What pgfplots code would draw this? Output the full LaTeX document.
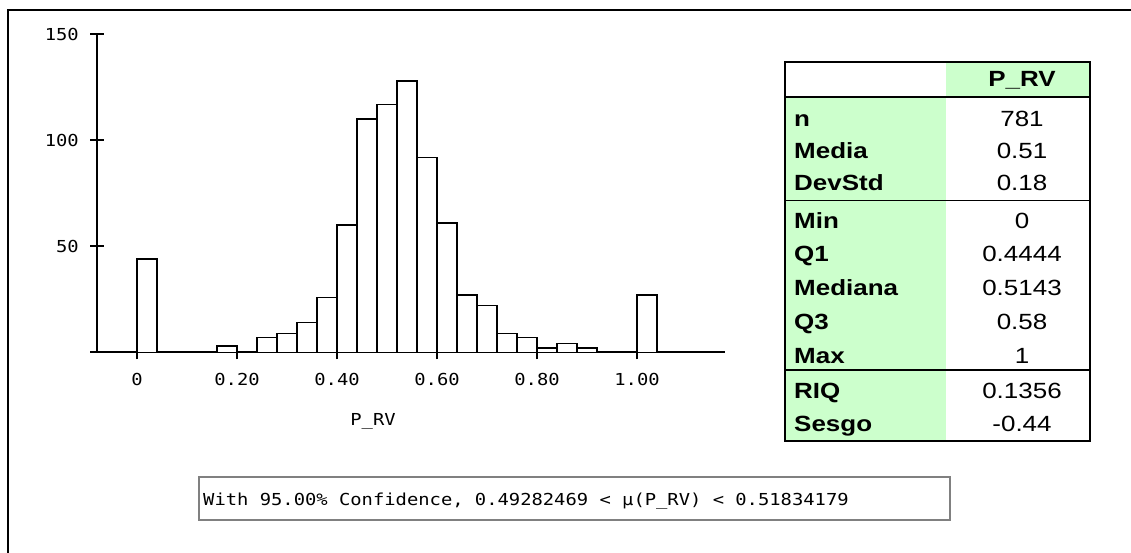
\documentclass[border=0pt]{standalone}
\usepackage{pgfplots}
\pgfplotsset{compat=1.18}
\usepackage{fontspec}
\setmainfont{Liberation Sans}
\newfontfamily\pix[FakeStretch=1.14]{DejaVu Sans Mono}
\newfontfamily\tabfont[FakeStretch=1.18]{Liberation Sans}
\definecolor{tgreen}{RGB}{204,255,204}
\definecolor{cgray}{RGB}{128,128,128}
\begin{document}
\begin{tikzpicture}[x=1pt,y=1pt]
\path[use as bounding box] (0,0) rectangle (1131,553);
\draw[line width=2pt] (8,-5) -- (8,543) -- (1136,543);
\begin{axis}[
  at={(97pt,200.7pt)}, anchor=south west,
  scale only axis, width=628pt, height=319.3pt,
  xmin=-0.08, xmax=1.176, ymin=0, ymax=150.6,
  axis x line=bottom, axis y line=left,
  axis line style={-, line width=1.6pt, black},
  every outer x axis line/.append style={-},
  every outer y axis line/.append style={-},
  xtick={0,0.2,0.4,0.6,0.8,1.0},
  xticklabels={0,0.20,0.40,0.60,0.80,1.00},
  ytick={50,100,150},
  yticklabels={50,100,150},
  tick align=outside, major tick length=7pt,
  tick style={line width=1.6pt, black},
  extra y ticks={50,100,150}, extra y tick labels={},
  extra y tick style={tick align=inside},
  /pgf/number format/assume math mode=true,
  ticklabel style={font=\pix\fontsize{16.5}{18}\selectfont, inner sep=0pt},
  xticklabel style={anchor=base, yshift=-26pt},
  yticklabel style={anchor=east, xshift=-11pt},
  clip=false,
]
\addplot[ybar interval, fill=white, draw=black, line width=1.3pt] coordinates {
(0.00,44) (0.04,0) (0.08,0) (0.12,0) (0.16,3) (0.20,0) (0.24,7) (0.28,9)
(0.32,14) (0.36,26) (0.40,60) (0.44,110) (0.48,117) (0.52,128) (0.56,92)
(0.60,61) (0.64,27) (0.68,22) (0.72,9) (0.76,7) (0.80,2) (0.84,4) (0.88,2)
(0.92,0) (0.96,0) (1.00,27) (1.04,0)
};
\draw[line width=1.6pt] (axis cs:-0.094,0) -- (axis cs:-0.08,0);
\end{axis}
\node[font=\pix\fontsize{16.5}{18}\selectfont, anchor=base, inner sep=0pt] at (373,127) {P\_RV};
% table
\fill[tgreen] (946,491) rectangle (1090,456);
\fill[tgreen] (785,456) rectangle (946,112);
\draw[line width=1.6pt] (785,456) -- (1090,456);
\draw[line width=1.6pt] (785,352.3) -- (1090,352.3);
\draw[line width=1.6pt] (785,183) -- (1090,183);
\draw[line width=2pt] (785,112) rectangle (1090,491);
\begin{scope}[every node/.style={inner sep=0pt, font=\tabfont\fontsize{22}{24}\selectfont}]
\node[anchor=base, font=\tabfont\bfseries\fontsize{22}{24}\selectfont] at (1022,466) {P\_RV};
\foreach \lab/\val/\py in {n/781/119, Media/0.51/151, DevStd/0.18/183, Min/0/221, Q1/0.4444/254, Mediana/0.5143/288, Q3/0.58/322, Max/1/356, RIQ/0.1356/391, Sesgo/-0.44/424}{
  \node[anchor=base west, font=\tabfont\bfseries\fontsize{22}{24}\selectfont] at (794,553-\py-7.8) {\lab};
  \node[anchor=base] at (1022,553-\py-7.8) {\val};
}
\end{scope}
% confidence box
\draw[cgray, line width=1.5pt] (199,33) rectangle (950,76);
\node[font=\pix\fontsize{16.5}{18}\selectfont, anchor=base west, inner sep=0pt] at (203,47) {With 95.00\% Confidence, 0.49282469 < μ(P\_RV) < 0.51834179};
\end{tikzpicture}
\end{document}
